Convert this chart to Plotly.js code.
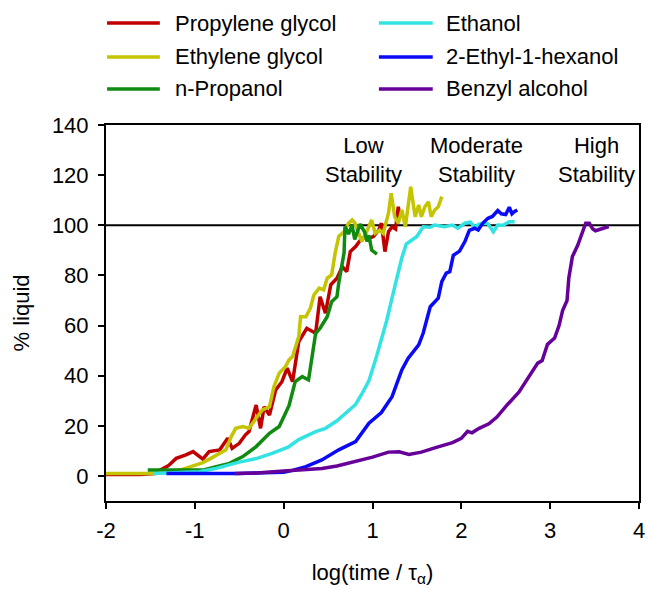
<!DOCTYPE html>
<html>
<head>
<meta charset="utf-8">
<script src="https://cdn.plot.ly/plotly-3.0.1.min.js"></script>
<style>html,body{margin:0;padding:0;background:#fff;}#chart{width:646px;height:589px;}</style>
</head>
<body>
<div id="chart"></div>
<script>
// Series names and colours
const names = ["Propylene glycol", "Ethylene glycol", "n-Propanol", "Ethanol", "2-Ethyl-1-hexanol", "Benzyl alcohol"];
const colors = ["#C00000", "#C4C400", "#108A10", "#33E3E3", "#0A0AF5", "#660099"];

// Propylene glycol
const pgX = [-2.0,-1.8,-1.62,-1.45,-1.39,-1.30,-1.21,-1.10,-1.02,-0.91,-0.84,-0.72,-0.63,-0.58,-0.50,-0.43,-0.39,-0.31,-0.26,-0.22,-0.16,-0.09,-0.02,0.04,0.10,0.17,0.26,0.36,0.41,0.47,0.53,0.60,0.66,0.71,0.75,0.81,0.88,0.96,1.01,1.07,1.10,1.14,1.18,1.22,1.26,1.29,1.31];
const pgY = [0.6,0.6,0.6,1,2.4,4,7,8.4,9.7,6.7,9.7,10.4,15,11,13,16.4,17.7,28.3,19,27.6,24.3,34.3,37.6,43,37.6,53.6,58.9,56.9,71.5,64.9,76.2,78.9,83.5,81.5,89.5,91.5,94.8,94.8,95.5,98.1,100.8,89.5,97.4,99.4,98.5,107.4,103.4];

// Ethylene glycol
const egX = [-2.0,-1.7,-1.47,-1.3,-1.15,-1.02,-0.91,-0.82,-0.72,-0.65,-0.59,-0.54,-0.46,-0.39,-0.31,-0.24,-0.16,-0.11,-0.05,0.02,0.06,0.10,0.17,0.19,0.25,0.30,0.34,0.40,0.45,0.49,0.54,0.58,0.62,0.68,0.73,0.77,0.80,0.84,0.88,0.93,0.99,1.03,1.08,1.12,1.18,1.21,1.25,1.29,1.33,1.37,1.41,1.43,1.48,1.52,1.55,1.59,1.63,1.66,1.70,1.74,1.78];
const egY = [1,1,1,1.5,2.5,4,5.3,7,9,10.4,15.7,19,19.7,19,23,26.3,27.6,35.6,41,43.6,46.3,47.6,55.6,63.5,63.5,66.9,72.2,74.9,74.2,78.9,80.2,89,95.5,97.4,100.8,102.1,101,96.8,93.5,97,102.1,96.8,98,96.8,104.8,112.8,103.4,100.8,106.1,99.4,108.8,115.4,103.4,108.1,103.4,107.4,109.4,103.4,106.1,107.4,111.4];

// n-Propanol
const npX = [-1.53,-1.2,-0.9,-0.76,-0.61,-0.46,-0.31,-0.16,-0.05,0.06,0.13,0.21,0.28,0.36,0.41,0.49,0.54,0.60,0.62,0.68,0.69,0.73,0.77,0.80,0.86,0.91,0.94,0.96,0.99,1.05];
const npY = [2.4,2.4,2.4,3.7,5,7.7,11.7,17,19.7,28,37.6,39.6,38.3,56.9,58.9,63.5,69.5,71.5,77,89,99.5,96.5,100,94.4,100.5,97.4,93.5,96,90.1,88.5];

// Ethanol
const etX = [-1.47,-1.2,-0.95,-0.76,-0.5,-0.3,-0.13,0.05,0.17,0.36,0.47,0.6,0.73,0.81,0.88,0.96,1.04,1.10,1.16,1.22,1.28,1.33,1.38,1.44,1.50,1.57,1.65,1.70,1.81,1.90,1.96,2.04,2.10,2.15,2.20,2.26,2.30,2.36,2.41,2.47,2.54,2.60];
const etY = [1,1.2,1.7,3,5.5,7,9,11.5,14.5,17.7,19,22,26,28.5,32.7,38,47,54,62,71,80,87,92.5,94,95.5,99.4,99.2,100.1,99.4,100.1,98.8,100.8,101.2,99.4,100.4,100.8,100.6,97.4,100.1,100,101.4,101.4];

// 2-Ethyl-1-hexanol
const ehX = [-1.32,-1.0,-0.5,0,0.1,0.25,0.43,0.62,0.81,0.96,1.10,1.22,1.33,1.40,1.52,1.57,1.65,1.74,1.78,1.83,1.87,1.91,1.98,2.04,2.09,2.15,2.19,2.24,2.30,2.35,2.41,2.45,2.50,2.54,2.57,2.60,2.63];
const ehY = [1,1,1,1.5,2.2,3.7,6.4,10.4,13.7,21,25.3,31.6,42.3,46.9,52.3,56.9,67.5,70.9,77.5,80.9,81.5,88,89.7,93.5,98,98.8,98.1,100.8,102.8,103.5,105.9,104.6,104.3,107.2,104.6,105.5,106.1];

// Benzyl alcohol
const baX = [-0.55,-0.3,0,0.2,0.43,0.6,0.81,1.0,1.18,1.3,1.41,1.55,1.71,1.9,2.0,2.07,2.12,2.2,2.31,2.4,2.52,2.65,2.75,2.86,2.91,2.97,3.05,3.1,3.14,3.19,3.21,3.25,3.31,3.36,3.40,3.44,3.48,3.51,3.58,3.66];
const baY = [1,1.2,2,2.5,3,4,5.7,7.5,9.5,9.6,8.6,9.5,11.3,13.3,15,17.8,17.2,19,20.8,23.5,28.5,33.5,39,45,46,52.5,55,60,66,70,79,87.5,92,97,100.8,100.8,98.5,97.8,98.5,99.5];

// Axis settings
const xTicks = [-2,-1,0,1,2,3,4];
const xTickText = ["-2","-1","0","1","2","3","4"];
const yTicks = [0,20,40,60,80,100,120,140];
const refLevel = 100;
const stabilityLabels = ["Low<br>Stability", "Moderate<br>Stability", "High<br>Stability"];
const stabilityX = [0.90, 2.17, 3.52];

const xs = [pgX, egX, npX, etX, ehX, baX];
const ys = [pgY, egY, npY, etY, ehY, baY];

const traces = names.map((n, i) => ({
  type: 'scatter', mode: 'lines', name: n, x: xs[i], y: ys[i],
  line: {color: colors[i], width: 3.5}, showlegend: false
}));

const FONT = 'Liberation Sans, Arial, sans-serif';

// Manual legend (two columns, three rows)
const legendCols = [0, 0, 0, 1, 1, 1];
const legendRows = [0, 1, 2, 0, 1, 2];
const rowY = [1.271, 1.181, 1.096];
const colLine = [[0.002, 0.101], [0.512, 0.613]];
const colText = [0.125, 0.635];

const shapes = [{
  type: 'line', xref: 'x', yref: 'y', x0: -2, x1: 4, y0: refLevel, y1: refLevel,
  line: {color: '#000', width: 2}, layer: 'below'
}];
const annotations = [];
names.forEach((n, i) => {
  const c = legendCols[i], r = legendRows[i];
  shapes.push({type: 'line', xref: 'paper', yref: 'paper', x0: colLine[c][0], x1: colLine[c][1],
    y0: rowY[r], y1: rowY[r], line: {color: colors[i], width: 3.5}});
  annotations.push({xref: 'paper', yref: 'paper', x: colText[c], y: rowY[r], text: n,
    showarrow: false, xanchor: 'left', yanchor: 'middle', font: {family: FONT, size: 22, color: '#000'}});
});
stabilityLabels.forEach((t, i) => {
  annotations.push({xref: 'x', yref: 'y', x: stabilityX[i], y: 126.0, text: t, showarrow: false,
    xanchor: 'center', yanchor: 'middle', align: 'center',
    font: {family: FONT, size: 22, color: '#000'}});
});

const layout = {
  width: 646, height: 589,
  margin: {l: 106, r: 7, t: 125, b: 88},
  paper_bgcolor: '#fff', plot_bgcolor: '#fff',
  font: {family: FONT, size: 22, color: '#000'},
  xaxis: {
    range: [-2, 4], tickvals: xTicks, ticktext: xTickText, ticks: 'outside', ticklen: 6, tickwidth: 2, tickcolor: '#000',
    showline: true, linewidth: 2, linecolor: '#000', mirror: true, showgrid: false, zeroline: false,
    tickfont: {family: FONT, size: 22}, ticklabelstandoff: 3, ticklabeloverflow: 'allow',
    title: {text: 'log(time / τ<sub>α</sub>)', font: {family: FONT, size: 22}, standoff: 22}
  },
  yaxis: {
    range: [-10, 140], tickvals: yTicks, ticks: 'outside', ticklen: 6, tickwidth: 2, tickcolor: '#000',
    showline: true, linewidth: 2, linecolor: '#000', mirror: true, showgrid: false, zeroline: false,
    tickfont: {family: FONT, size: 22}, ticklabelstandoff: 5, ticklabeloverflow: 'allow',
    title: {text: '% liquid', font: {family: FONT, size: 22}, standoff: 16}
  },
  shapes: shapes,
  annotations: annotations,
  showlegend: false
};

Plotly.newPlot('chart', traces, layout, {staticPlot: true, displayModeBar: false});
</script>
</body>
</html>
